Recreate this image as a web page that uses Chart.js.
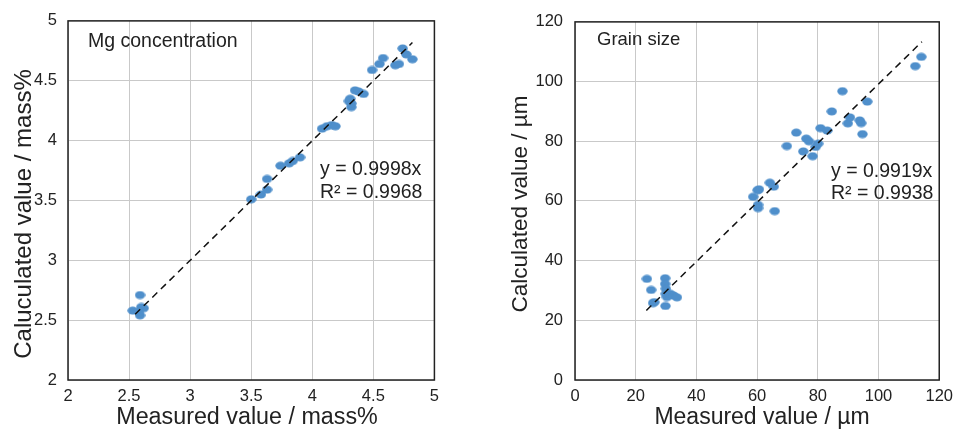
<!DOCTYPE html>
<html lang="en">
<head>
  <meta charset="UTF-8" />
  <title>Measured vs calculated</title>
  <script src="https://cdn.jsdelivr.net/npm/chart.js"></script>
  <style>
    * { margin: 0; padding: 0; box-sizing: border-box; }
    body { background: #fff; width: 955px; height: 432px; position: relative; overflow: hidden; }
    .box { position: absolute; top: 0; height: 432px; }
    #left-box { left: 0; width: 446px; }
    #right-box { left: 490px; width: 470px; }
  </style>
</head>
<body>
  <div class="box" id="left-box"><canvas id="mgChart"></canvas></div>
  <div class="box" id="right-box"><canvas id="grainChart"></canvas></div>

  <script>
    // Mg concentration (mass%)
    const mgMeasured = [2.59, 2.53, 2.60, 2.62, 2.59, 2.58, 3.50, 3.58, 3.63, 3.63, 3.74, 3.81, 3.84, 3.90,
      4.08, 4.12, 4.16, 4.19, 4.30, 4.31, 4.32, 4.32, 4.35, 4.38, 4.42, 4.49, 4.55, 4.58, 4.68, 4.71, 4.74, 4.77, 4.82];
    const mgCalculated = [2.71, 2.58, 2.61, 2.60, 2.54, 2.57, 3.51, 3.55, 3.59, 3.68, 3.79, 3.81, 3.83, 3.86,
      4.10, 4.12, 4.13, 4.12, 4.33, 4.35, 4.28, 4.31, 4.42, 4.41, 4.39, 4.59, 4.64, 4.69, 4.63, 4.64, 4.77, 4.72, 4.68];
    const mgSlope = 0.9998;
    const mgFitRange = [2.55, 4.82];
    const mgTicks = [2, 2.5, 3, 3.5, 4, 4.5, 5];

    // Grain size (um)
    const grainMeasured = [23.7, 25.1, 25.7, 26.1, 29.7, 29.7, 29.9, 29.9, 30.3, 29.8, 31.4, 32.5, 33.6,
      58.7, 60.2, 60.6, 60.3, 60.3, 64.2, 65.5, 65.8, 69.8, 72.9, 75.2, 76.2, 77.1, 78.3, 79.3, 80.1,
      80.9, 83.1, 84.6, 88.1, 89.9, 90.6, 93.8, 94.3, 94.7, 96.3, 112.1, 114.1];
    const grainCalculated = [33.9, 30.2, 25.8, 26.1, 34.1, 32.2, 30.6, 28.9, 27.8, 24.8, 28.9, 28.3, 27.7,
      61.4, 63.6, 63.9, 58.7, 57.6, 66.1, 64.8, 56.6, 78.4, 82.9, 76.6, 80.9, 80.0, 75.0, 78.1, 79.2,
      84.4, 83.6, 90.0, 96.8, 86.0, 88.0, 87.0, 86.1, 82.4, 93.3, 105.2, 108.3];
    const grainSlope = 0.9919;
    const grainFitRange = [23.5, 114.3];
    const grainTicks = [0, 20, 40, 60, 80, 100, 120];

    const FONT = "'Liberation Sans', Arial, sans-serif";
    const BLUE = '#4f8fcb';
    const INK = '#222';

    // slightly flattened marker, like the original
    function makeMarker() {
      const c = document.createElement('canvas');
      c.width = 11; c.height = 9;
      const g = c.getContext('2d');
      g.fillStyle = BLUE;
      g.beginPath();
      g.ellipse(5.5, 4.5, 5.2, 4.0, 0, 0, Math.PI * 2);
      g.fill();
      return c;
    }
    const marker = makeMarker();

    const frame = {
      id: 'frame',
      afterDatasetsDraw(chart) {
        const a = chart.chartArea, ctx = chart.ctx;
        ctx.save();
        ctx.strokeStyle = INK;
        ctx.lineWidth = 1.5;
        ctx.strokeRect(a.left, a.top, a.right - a.left, a.bottom - a.top);
        ctx.restore();
      }
    };

    // free text: annotations and axis titles (rot = -90 for the y title)
    const notes = {
      id: 'notes',
      afterDraw(chart, args, opts) {
        const ctx = chart.ctx;
        opts.items.forEach(t => {
          ctx.save();
          ctx.fillStyle = INK;
          ctx.textBaseline = 'middle';
          ctx.textAlign = t.align || 'left';
          ctx.font = t.size + 'px ' + FONT;
          ctx.translate(t.x, t.y);
          if (t.rot) ctx.rotate(t.rot * Math.PI / 180);
          ctx.fillText(t.text, 0, 0);
          ctx.restore();
        });
      }
    };

    function makeChart(id, xs, ys, slope, range, ticks, o) {
      const pts = xs.map((x, i) => ({ x, y: ys[i] }));
      const fit = range.map(x => ({ x, y: slope * x }));
      return new Chart(document.getElementById(id), {
        type: 'scatter',
        data: {
          datasets: [
            {
              type: 'line', data: fit, order: 0,
              borderColor: '#111', borderWidth: 1.5, borderDash: [7, 5],
              pointRadius: 0, fill: false
            },
            {
              data: pts, order: 1,
              pointStyle: marker, pointRadius: 5, backgroundColor: BLUE, borderColor: BLUE
            }
          ]
        },
        options: {
          responsive: true,
          maintainAspectRatio: false,
          animation: false,
          events: [],
          layout: { padding: { top: 20, right: 0, left: 0, bottom: 0 } },
          plugins: {
            legend: { display: false },
            tooltip: { enabled: false },
            notes: { items: o.notes }
          },
          scales: {
            x: {
              type: 'linear', min: ticks[0], max: ticks[ticks.length - 1],
              afterBuildTicks: s => { s.ticks = ticks.map(v => ({ value: v })); },
              afterFit: s => { s.height = 52; },
              grid: { color: '#c9c9c9', lineWidth: 1, drawTicks: false },
              border: { display: false },
              ticks: { padding: 7, color: INK, font: { family: FONT, size: 16.5 }, callback: v => String(v) }
            },
            y: {
              type: 'linear', min: ticks[0], max: ticks[ticks.length - 1],
              afterBuildTicks: s => { s.ticks = ticks.map(v => ({ value: v })); },
              afterFit: s => { s.width = o.yWidth; },
              grid: { color: '#c9c9c9', lineWidth: 1, drawTicks: false },
              border: { display: false },
              ticks: { padding: o.yTickPad, color: INK, font: { family: FONT, size: 16.5 }, callback: v => String(v) }
            }
          }
        },
        plugins: [frame, notes]
      });
    }

    makeChart('mgChart', mgMeasured, mgCalculated, mgSlope, mgFitRange, mgTicks, {
      yWidth: 68, yTickPad: 11,
      notes: [
        { text: 'Mg concentration', x: 88, y: 42, size: 19.5 },
        { text: 'y = 0.9998x', x: 320, y: 170, size: 19.5 },
        { text: 'R² = 0.9968', x: 320, y: 193, size: 19.5 },
        { text: 'Measured value / mass%', x: 247, y: 418, size: 23.3, align: 'center' },
        { text: 'Caluculated value / mass%', x: 24, y: 214, size: 24, align: 'center', rot: -90 }
      ]
    });

    makeChart('grainChart', grainMeasured, grainCalculated, grainSlope, grainFitRange, grainTicks, {
      yWidth: 85, yTickPad: 12,
      notes: [
        { text: 'Grain size', x: 107, y: 40, size: 18.5 },
        { text: 'y = 0.9919x', x: 341, y: 172, size: 19.5 },
        { text: 'R² = 0.9938', x: 341, y: 194, size: 19.5 },
        { text: 'Measured value / µm', x: 272, y: 418, size: 23, align: 'center' },
        { text: 'Calculated value / µm', x: 31, y: 204, size: 22.5, align: 'center', rot: -90 }
      ]
    });
  </script>
</body>
</html>
